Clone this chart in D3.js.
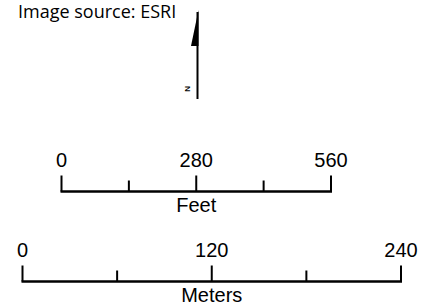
<!DOCTYPE html>
<html>
<head>
<meta charset="utf-8">
<script src="https://cdn.jsdelivr.net/npm/d3@7.9.0/dist/d3.min.js"></script>
<style>
  html, body { margin: 0; padding: 0; background: #fff; }
  svg { display: block; }
  .source { font-family: "Open Sans", sans-serif; font-size: 18px; }
  .lbl { font-family: "Liberation Sans", Arial, sans-serif; font-size: 20px; }
</style>
</head>
<body>
<div id="chart"></div>
<script>
// scale bar values
const feetDomain = [0, 560];
const feetTicks = [0, 140, 280, 420, 560];
const feetLabels = [0, 280, 560];

const meterDomain = [0, 240];
const meterTicks = [0, 60, 120, 180, 240];
const meterLabels = [0, 120, 240];

const width = 422;
const height = 305;

const svg = d3.select('#chart')
  .append('svg')
  .attr('width', width)
  .attr('height', height);

// source note
svg.append('text')
  .attr('class', 'source')
  .attr('x', 18)
  .attr('y', 18)
  .text('Image source: ESRI');

// north arrow
const north = svg.append('g').attr('transform', 'translate(197.5, 0)');
north.append('line')
  .attr('x1', 0).attr('x2', 0)
  .attr('y1', 12).attr('y2', 99)
  .attr('stroke', '#000')
  .attr('stroke-width', 2);
north.append('path')
  .attr('d', 'M1,10 L-6.5,46 L1,46 Z')
  .attr('fill', '#000');
north.append('text')
  .attr('transform', 'translate(-13, 89) rotate(90)')
  .attr('text-anchor', 'middle')
  .attr('font-family', 'Liberation Sans, Arial, sans-serif')
  .attr('font-size', 8)
  .attr('font-weight', 'bold')
  .text('N');

function scaleBar(domain, ticks, labels, unit, x0, x1, y) {
  const x = d3.scaleLinear().domain(domain).range([x0, x1]);
  const g = svg.append('g');
  const major = new Set(labels);

  g.append('line')
    .attr('x1', x(domain[0]) - 1).attr('x2', x(domain[1]) + 1)
    .attr('y1', y).attr('y2', y)
    .attr('stroke', '#000')
    .attr('stroke-width', 2.5);

  g.selectAll('line.tick')
    .data(ticks)
    .join('line')
    .attr('class', 'tick')
    .attr('x1', (d) => x(d)).attr('x2', (d) => x(d))
    .attr('y1', y)
    .attr('y2', (d) => major.has(d) ? y - 16 : y - 11)
    .attr('stroke', '#000')
    .attr('stroke-width', 2);

  g.selectAll('text.val')
    .data(labels)
    .join('text')
    .attr('class', 'lbl val')
    .attr('x', (d) => x(d))
    .attr('y', y - 25)
    .attr('text-anchor', 'middle')
    .text((d) => d);

  g.append('text')
    .attr('class', 'lbl')
    .attr('x', x((domain[0] + domain[1]) / 2))
    .attr('y', y + 20)
    .attr('text-anchor', 'middle')
    .text(unit);
}

scaleBar(feetDomain, feetTicks, feetLabels, 'Feet', 61.5, 331, 191.5);
scaleBar(meterDomain, meterTicks, meterLabels, 'Meters', 22.5, 401, 281.5);
</script>
</body>
</html>
